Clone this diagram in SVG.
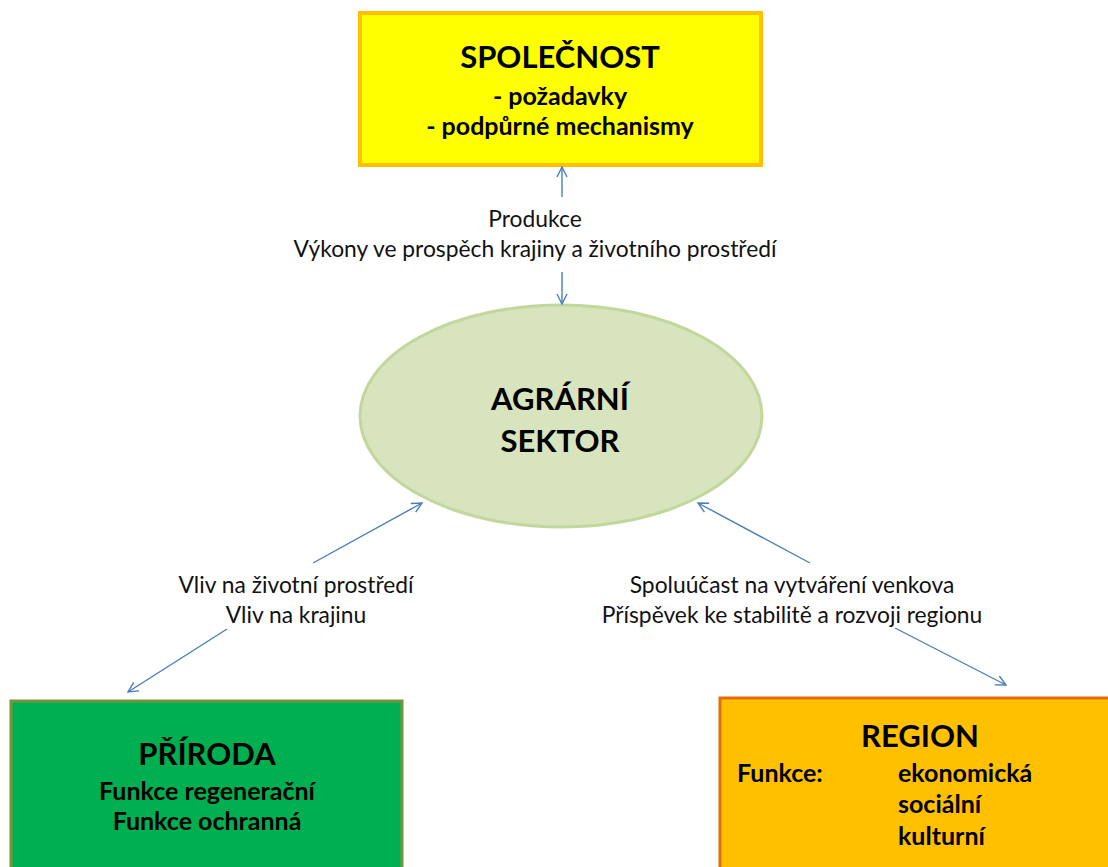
<svg xmlns="http://www.w3.org/2000/svg" width="1108" height="867" viewBox="0 0 1108 867">
<defs>
<marker id="arr" viewBox="0 0 12 12" refX="11" refY="6" markerWidth="12" markerHeight="12" markerUnits="userSpaceOnUse" orient="auto-start-reverse">
<path d="M1,1 L11,6 L1,11" fill="none" stroke="#4A7EBB" stroke-width="1.4"/>
</marker>
<style>
.t{font-family:Lato,"Liberation Sans",sans-serif;fill:#000;}
.b{font-weight:bold;}
.h{font-size:31px;}
.s{font-size:25px;}
.l{font-size:22.8px;fill:#111;}
.c{stroke:#4A7EBB;stroke-width:1.4;fill:none;}
</style>
</defs>
<rect width="1108" height="867" fill="#fff"/>
<g id="spolecnost">
<rect x="360" y="13" width="401" height="152" fill="#FFFF00" stroke="#FFC000" stroke-width="4"/>
<text class="t b h" x="560" y="68" text-anchor="middle">SPOLEČNOST</text>
<text class="t b s" x="560" y="105" text-anchor="middle">- požadavky</text>
<text class="t b s" x="560" y="135" text-anchor="middle">- podpůrné mechanismy</text>
</g>
<g id="agrarni">
<ellipse cx="561" cy="416" rx="201" ry="111" fill="#D7E4BD" stroke="#C3D69B" stroke-width="3"/>
<text class="t b h" x="560" y="410" text-anchor="middle">AGRÁRNÍ</text>
<text class="t b h" x="560" y="452" text-anchor="middle">SEKTOR</text>
</g>
<g id="priroda">
<rect x="11" y="701" width="391" height="180" fill="#00B050" stroke="#77933C" stroke-width="3"/>
<text class="t b h" x="207" y="765" text-anchor="middle">PŘÍRODA</text>
<text class="t b s" x="207" y="800" text-anchor="middle">Funkce regenerační</text>
<text class="t b s" x="207" y="830" text-anchor="middle">Funkce ochranná</text>
</g>
<g id="region">
<rect x="720" y="698" width="400" height="180" fill="#FFC000" stroke="#E46C0A" stroke-width="3"/>
<text class="t b h" x="920" y="747" text-anchor="middle">REGION</text>
<text class="t b s" x="737" y="782">Funkce:</text>
<text class="t b s" x="898" y="782">ekonomická</text>
<text class="t b s" x="898" y="813">sociální</text>
<text class="t b s" x="898" y="845">kulturní</text>
</g>
<g id="connectors">
<line class="c" x1="562" y1="197" x2="562" y2="167" marker-end="url(#arr)"/>
<line class="c" x1="562" y1="272" x2="562" y2="304" marker-end="url(#arr)"/>
<line class="c" x1="313" y1="563" x2="422" y2="503" marker-end="url(#arr)"/>
<line class="c" x1="227" y1="629" x2="128" y2="692" marker-end="url(#arr)"/>
<line class="c" x1="810" y1="563" x2="698" y2="503" marker-end="url(#arr)"/>
<line class="c" x1="895" y1="628" x2="1006" y2="685" marker-end="url(#arr)"/>
</g>
<g id="labels">
<text class="t l" x="535" y="227" text-anchor="middle">Produkce</text>
<text class="t l" x="535" y="257" text-anchor="middle">Výkony ve prospěch krajiny a životního prostředí</text>
<text class="t l" x="296" y="593" text-anchor="middle">Vliv na životní prostředí</text>
<text class="t l" x="296" y="623" text-anchor="middle">Vliv na krajinu</text>
<text class="t l" x="792" y="593" text-anchor="middle">Spoluúčast na vytváření venkova</text>
<text class="t l" x="792" y="623" text-anchor="middle">Příspěvek ke stabilitě a rozvoji regionu</text>
</g>
</svg>
